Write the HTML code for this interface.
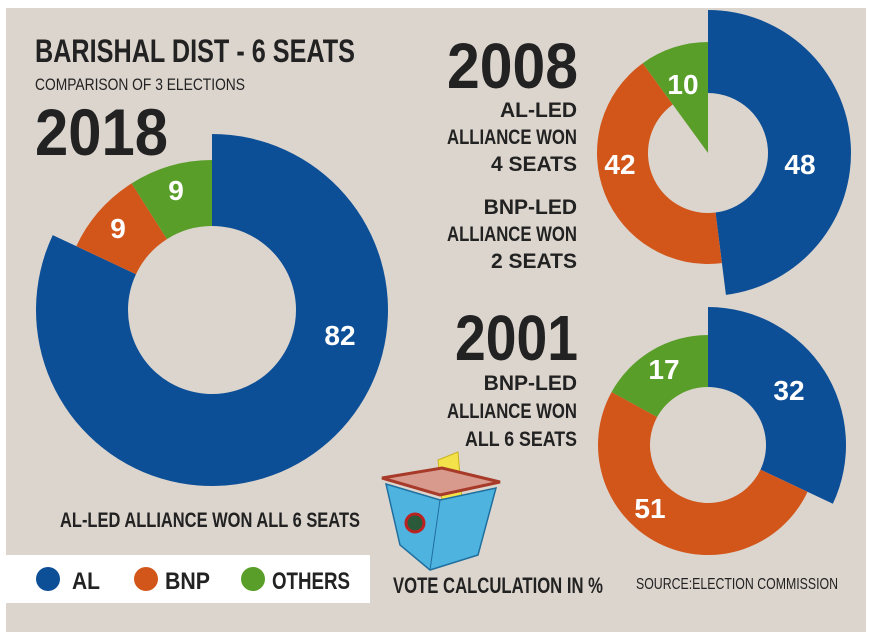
<!DOCTYPE html>
<html><head><meta charset="utf-8"><style>
html,body{margin:0;padding:0;background:#fff;}
svg{display:block;font-family:"Liberation Sans",sans-serif;}
</style></head><body>
<svg id="chart" width="874" height="643" viewBox="0 0 874 643">
<rect x="6" y="8" width="860" height="624" fill="#dcd5ce"/>
<g id="donuts"></g>
<g font-weight="bold" fill="#222">
<text x="35" y="62" font-size="32" textLength="320" lengthAdjust="spacingAndGlyphs">BARISHAL DIST - 6 SEATS</text>
<text x="35" y="90" font-size="17" font-weight="normal" textLength="210" lengthAdjust="spacingAndGlyphs">COMPARISON OF 3 ELECTIONS</text>
<text x="35" y="155" font-size="66" textLength="133" lengthAdjust="spacingAndGlyphs">2018</text>
<text x="447" y="88" font-size="64" textLength="131" lengthAdjust="spacingAndGlyphs">2008</text>
<g font-size="21" text-anchor="end">
<text x="577" y="117">AL-LED</text>
<text x="577" y="144" textLength="130" lengthAdjust="spacingAndGlyphs">ALLIANCE WON</text>
<text x="577" y="171">4 SEATS</text>
<text x="577" y="214">BNP-LED</text>
<text x="577" y="241" textLength="130" lengthAdjust="spacingAndGlyphs">ALLIANCE WON</text>
<text x="577" y="268">2 SEATS</text>
</g>
<text x="455" y="360" font-size="64" textLength="123" lengthAdjust="spacingAndGlyphs">2001</text>
<g font-size="21" text-anchor="end">
<text x="577" y="390">BNP-LED</text>
<text x="577" y="418" textLength="130" lengthAdjust="spacingAndGlyphs">ALLIANCE WON</text>
<text x="577" y="446" textLength="112" lengthAdjust="spacingAndGlyphs">ALL 6 SEATS</text>
</g>
<text x="60" y="527" font-size="21" textLength="300" lengthAdjust="spacingAndGlyphs">AL-LED ALLIANCE WON ALL 6 SEATS</text>
<text x="393" y="593" font-size="22" textLength="210" lengthAdjust="spacingAndGlyphs">VOTE CALCULATION IN %</text>
<text x="636" y="589" font-size="16" font-weight="normal" textLength="202" lengthAdjust="spacingAndGlyphs">SOURCE:ELECTION COMMISSION</text>
</g>
<g>
<path d="M438 460 L458 452 L462 500 L442 502 Z" fill="#f3e24a" stroke="#c9b320"/>
<path d="M382 478 L440 495 L500 482 L442 468 Z" fill="#d89a8c" stroke="#a83a2a" stroke-width="3"/>
<path d="M386 484 L440 500 L496 488 L478 555 L430 570 L400 545 Z" fill="#4fb3e0" stroke="#1f6f9e" stroke-width="1.5"/>
<path d="M440 500 L430 570" stroke="#1f6f9e" stroke-width="1"/>
<circle cx="415" cy="523" r="9" fill="#2a5a3a" stroke="#b22" stroke-width="3"/>
</g>
<g>
<rect x="6" y="555" width="364" height="48" fill="#fff"/>
<circle cx="48" cy="579" r="12" fill="#0d4f97"/>
<text x="72" y="589" font-size="24" font-weight="bold" fill="#222" textLength="28" lengthAdjust="spacingAndGlyphs">AL</text>
<circle cx="146" cy="579" r="12" fill="#d2561a"/>
<text x="165" y="589" font-size="24" font-weight="bold" fill="#222" textLength="45" lengthAdjust="spacingAndGlyphs">BNP</text>
<circle cx="253" cy="579" r="12" fill="#5a9e2a"/>
<text x="272" y="589" font-size="24" font-weight="bold" fill="#222" textLength="78" lengthAdjust="spacingAndGlyphs">OTHERS</text>
</g>
</svg>
<script>
const parties = ["AL", "BNP", "OTHERS"];
const colors = ["#0d4f97", "#d2561a", "#5a9e2a"];
const years = ["2018", "2008", "2001"];
const values2018 = [82, 9, 9];
const values2008 = [48, 42, 10];
const values2001 = [32, 51, 17];
const allValues = [values2018, values2008, values2001];
const geom = [
  {cx:212, cy:310, rBig:176, rSmall:150, rIn:84, lab:[{x:340,y:345},{x:118,y:238},{x:176,y:200}]},
  {cx:708, cy:153, rBig:143, rSmall:111, rIn:60, lab:[{x:800,y:174},{x:620,y:174},{x:683,y:94}]},
  {cx:708, cy:445, rBig:138, rSmall:110, rIn:58, lab:[{x:789,y:400},{x:650,y:518},{x:664,y:379}]}
];
const NS = "http://www.w3.org/2000/svg";
const g = document.getElementById("donuts");
function pt(cx, cy, r, a){ return [cx + r*Math.sin(a), cy - r*Math.cos(a)]; }
function arc(cx, cy, r0, r1, a0, a1){
  const large = (a1 - a0) > Math.PI ? 1 : 0;
  const p0 = pt(cx,cy,r1,a0), p1 = pt(cx,cy,r1,a1), p2 = pt(cx,cy,r0,a1), p3 = pt(cx,cy,r0,a0);
  return `M${p0} A${r1},${r1} 0 ${large} 1 ${p1} L${p2} A${r0},${r0} 0 ${large} 0 ${p3} Z`;
}
allValues.forEach((vals, k) => {
  const G = geom[k];
  const total = vals.reduce((s,v)=>s+v,0);
  let a = 0;
  vals.forEach((v, i) => {
    const a1 = a + v/total*2*Math.PI;
    const r1 = i === 0 ? G.rBig : G.rSmall;
    const rIn = (k===1 && i===2) ? 0 : G.rIn;
    const p = document.createElementNS(NS, "path");
    p.setAttribute("d", arc(G.cx, G.cy, rIn, r1, a, Math.min(a1, a + 2*Math.PI - 1e-4)));
    p.setAttribute("fill", colors[i]);
    
    
    g.appendChild(p);
    const t = document.createElementNS(NS, "text");
    t.setAttribute("x", G.lab[i].x);
    t.setAttribute("y", G.lab[i].y);
    t.setAttribute("text-anchor", "middle");
    t.setAttribute("font-size", "28");
    t.setAttribute("font-weight", "bold");
    t.setAttribute("fill", "#fff");
    t.textContent = v;
    
    
    g.appendChild(t);
    a = a1;
  });
});
</script>
</body></html>
